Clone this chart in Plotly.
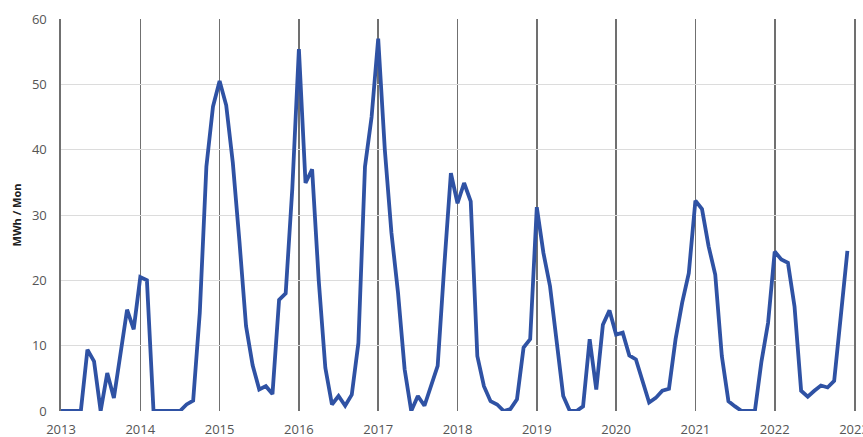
import plotly.graph_objects as go

# Monthly energy values (MWh / month), Jan..Dec for each year
v2013 = [0, 0, 0, 0, 9.4, 7.6, 0, 5.8, 2.0, 8.9, 15.5, 12.5]
v2014 = [20.5, 20.0, 0, 0, 0, 0, 0, 1.0, 1.6, 15.0, 37.4, 46.6]
v2015 = [50.5, 46.8, 38.0, 26.0, 13.0, 7.0, 3.3, 3.8, 2.6, 17.0, 18.0, 34.0]
v2016 = [55.4, 34.9, 37.0, 20.0, 6.6, 1.0, 2.3, 0.8, 2.5, 10.4, 37.4, 45.0]
v2017 = [57.0, 40.0, 27.3, 18.1, 6.4, 0, 2.3, 0.8, 3.8, 6.9, 22.2, 36.4]
v2018 = [31.8, 34.9, 32.1, 8.4, 3.8, 1.5, 1.0, 0, 0.3, 1.8, 9.7, 11.0]
v2019 = [31.2, 24.2, 19.1, 10.4, 2.3, 0, 0, 0.7, 11.0, 3.3, 13.2, 15.4]
v2020 = [11.7, 12.0, 8.5, 7.9, 4.6, 1.3, 2.0, 3.1, 3.4, 11.0, 16.6, 21.1]
v2021 = [32.2, 30.9, 25.2, 20.9, 8.4, 1.5, 0.7, 0, 0, 0, 7.6, 13.5]
v2022 = [24.4, 23.2, 22.7, 16.0, 3.1, 2.2, 3.1, 3.9, 3.6, 4.6, 14.5, 24.5]

years = [2013, 2014, 2015, 2016, 2017, 2018, 2019, 2020, 2021, 2022]
yearly = [v2013, v2014, v2015, v2016, v2017, v2018, v2019, v2020, v2021, v2022]
tick_years = [2013, 2014, 2015, 2016, 2017, 2018, 2019, 2020, 2021, 2022, 2023]
tick_labels = [str(y) for y in tick_years]
y_ticks = [0, 10, 20, 30, 40, 50, 60]

xs, ys = [], []
for yr, vals in zip(years, yearly):
    for m, v in enumerate(vals):
        xs.append(yr + m / 12.0)
        ys.append(v)

fig = go.Figure()
fig.add_trace(go.Scatter(
    x=xs, y=ys, mode="lines",
    line=dict(color="#2F52A4", width=3.8),
    hoverinfo="skip", showlegend=False,
))

fig.update_layout(
    width=863, height=437,
    margin=dict(l=61, r=9, t=19, b=26),
    paper_bgcolor="white", plot_bgcolor="white",
    font=dict(family="Open Sans", size=13, color="#555555"),
    showlegend=False,
)
fig.update_xaxes(
    range=[2013, 2023],
    tickvals=tick_years, ticktext=tick_labels,
    showgrid=True, gridcolor="#707070", gridwidth=1.6,
    zeroline=False, showline=False, ticks="",
    tickfont=dict(size=13, color="#555555"),
    ticklabelstandoff=9,
    ticklabeloverflow="allow",
    automargin=False,
)
fig.update_yaxes(
    range=[0, 60],
    tickvals=y_ticks,
    showgrid=True, gridcolor="#dcdcdc", gridwidth=1,
    zeroline=False,
    showline=True, linecolor="#707070", linewidth=1.6, mirror=True,
    ticks="",
    tickfont=dict(size=13, color="#555555"),
    ticklabelstandoff=10,
    automargin=False,
    title=dict(text="<b>MWh / Mon</b>", font=dict(size=11, color="#202020"), standoff=8),
)

fig.write_html(
    "out.html",
    config={"displayModeBar": False, "staticPlot": True},
    post_script="document.body.style.margin='0';document.body.style.overflow='hidden';",
)
